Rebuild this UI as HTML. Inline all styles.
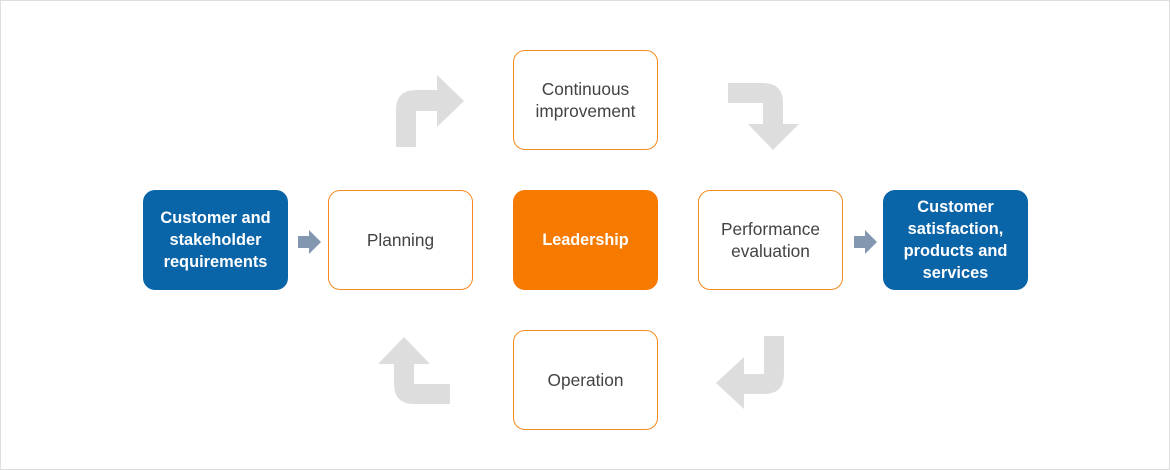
<!DOCTYPE html>
<html><head><meta charset="utf-8"><style>
html,body{margin:0;padding:0;background:#fff;}
.wrap{position:relative;width:1170px;height:470px;box-sizing:border-box;border:1px solid #dedede;overflow:hidden;font-family:"Liberation Sans",Arial,sans-serif;}
svg{position:absolute;left:0;top:0;}
.box{position:absolute;width:145px;height:100px;box-sizing:border-box;border-radius:12px;display:flex;align-items:center;justify-content:center;text-align:center;line-height:22px;}
.w{border:1px solid #f58a1f;background:#fff;color:#434343;font-size:17.3px;}
.b{background:#0a64a8;color:#fff;font-weight:bold;font-size:16.4px;}
.o{background:#f77a00;color:#fff;font-weight:bold;font-size:16.2px;}
</style></head><body>
<div class="wrap">
<svg width="1170" height="470" viewBox="0 0 1170 470">
 <g fill="#dddddd">
  <path d="M395,146 L395,109 Q395,89 415,89 L436,89 L436,74 L463,100 L436,126 L436,110 L415,110 L415,146 Z"/>
  <path d="M727,82 L762,82 Q782,82 782,102 L782,123 L798,123 L772,149 L747,123 L762,123 L762,102 L727,102 Z"/>
  <path d="M403,336 L429,363 L413,363 L413,383 L449,383 L449,403 L413,403 Q393,403 393,383 L393,363 L377,363 Z"/>
  <path d="M763,335 L783,335 L783,373 Q783,393 763,393 L743,393 L743,408 L715,382 L743,356 L743,373 L763,373 Z"/>
 </g>
 <g fill="#8497b0">
  <path d="M297,235 L308,235 L308,229 L320,241 L308,253 L308,247 L297,247 Z"/>
  <path d="M853,235 L864,235 L864,229 L876,241 L864,253 L864,247 L853,247 Z"/>
 </g>
</svg>
<div class="box b" style="left:142px;top:189px;">Customer and<br>stakeholder<br>requirements</div>
<div class="box w" style="left:327px;top:189px;">Planning</div>
<div class="box o" style="left:512px;top:189px;">Leadership</div>
<div class="box w" style="left:697px;top:189px;">Performance<br>evaluation</div>
<div class="box b" style="left:882px;top:189px;">Customer<br>satisfaction,<br>products and<br>services</div>
<div class="box w" style="left:512px;top:49px;">Continuous<br>improvement</div>
<div class="box w" style="left:512px;top:329px;">Operation</div>
</div>
</body></html>
